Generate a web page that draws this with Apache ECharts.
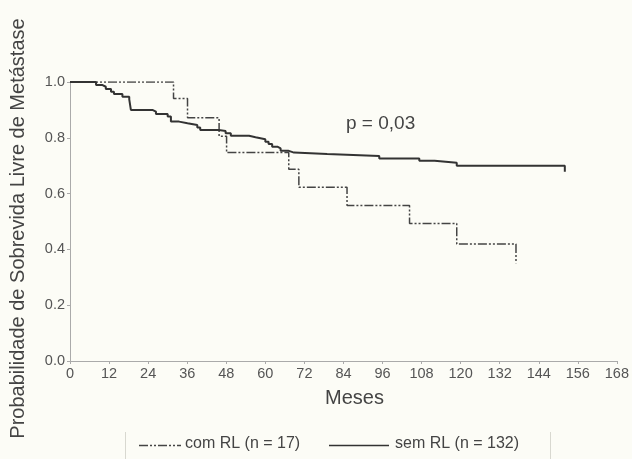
<!DOCTYPE html>
<html>
<head>
<meta charset="utf-8">
<script src="https://cdn.jsdelivr.net/npm/echarts@6/dist/echarts.min.js"></script>
<style>
html,body{margin:0;padding:0;background:#fcfcf6;}
#chart{width:632px;height:459px;}
</style>
</head>
<body>
<div id="chart"></div>
<script>
// Axis ticks
const xTicks = [0,12,24,36,48,60,72,84,96,108,120,132,144,156,168];
const yTicks = [0.0,0.2,0.4,0.6,0.8,1.0];

// sem RL (n = 132) - Kaplan-Meier steps
const semMonths = [0,8,10,11,12.6,13.5,16.1,18.2,18.7,25.3,26.4,30,31,33.5,36.1,39.1,40,45.7,47.8,49.4,55,57,60,61,62.1,63.7,64.7,67,68.8,79,95,107.3,112,118.8,152,152];
const semSurv   = [1,0.989,0.983,0.975,0.965,0.957,0.947,0.938,0.90,0.894,0.885,0.876,0.858,0.852,0.846,0.837,0.828,0.824,0.816,0.807,0.802,0.795,0.786,0.778,0.768,0.762,0.754,0.747,0.742,0.735,0.726,0.718,0.711,0.70,0.70,0.678];

// com RL (n = 17)
const comMonths = [0,31.8,36.1,45.8,48.1,67.2,70.3,85.1,104.3,118.8,137,137];
const comSurv   = [1,0.941,0.872,0.806,0.747,0.687,0.623,0.557,0.493,0.419,0.419,0.35];

const seriesNames = ['com RL (n = 17)', 'sem RL (n = 132)'];
const yTitle = 'Probabilidade de Sobrevida Livre de Metástase';
const xTitle = 'Meses';
const pText = 'p = 0,03';

const pair = (xs, ys) => xs.map((x, i) => [x, ys[i]]);
const FONT = '"Liberation Sans", Arial, sans-serif';
const dashDot = [9, 2, 2, 2, 2, 2];

const chart = echarts.init(document.getElementById('chart'), null, {renderer: 'canvas'});
chart.setOption({
  backgroundColor: '#fcfcf6',
  animation: false,
  textStyle: {fontFamily: FONT},
  grid: {left: 69, right: 15, top: 82, bottom: 98},
  xAxis: {
    type: 'value', min: xTicks[0], max: xTicks[xTicks.length - 1], interval: 12,
    name: xTitle, nameLocation: 'middle', nameGap: 27,
    nameTextStyle: {fontSize: 20, color: '#444', fontFamily: FONT, padding: [0, 0, 0, 22]},
    axisLine: {lineStyle: {color: '#aaa', width: 1}},
    axisTick: {length: 3, lineStyle: {color: '#aaa'}},
    axisLabel: {fontSize: 14.5, color: '#555', margin: 5, fontFamily: FONT},
    splitLine: {show: false}
  },
  yAxis: {
    type: 'value', min: yTicks[0], max: yTicks[yTicks.length - 1], interval: 0.2,
    name: yTitle, nameLocation: 'middle', nameGap: 42, nameRotate: 90,
    nameTextStyle: {fontSize: 20, color: '#444', fontFamily: FONT, padding: [0, 14, 0, 0]},
    axisLine: {show: true, lineStyle: {color: '#aaa', width: 1}},
    axisTick: {show: true, length: 3, lineStyle: {color: '#aaa'}},
    axisLabel: {fontSize: 14.5, color: '#555', margin: 5, fontFamily: FONT,
      formatter: v => v.toFixed(1)},
    splitLine: {show: false}
  },
  legend: {show: false},
  series: [
    {
      name: seriesNames[0], type: 'line', step: 'end', symbol: 'none',
      data: pair(comMonths, comSurv),
      lineStyle: {color: '#444', width: 1.5, type: dashDot},
      itemStyle: {color: '#444'}
    },
    {
      name: seriesNames[1], type: 'line', step: 'end', symbol: 'none',
      data: pair(semMonths, semSurv),
      lineStyle: {color: '#333', width: 2, type: 'solid'},
      itemStyle: {color: '#333'}
    }
  ],
  graphic: [
    {type: 'text', left: 346, top: 114, style: {text: pText, font: '19px ' + FONT, fill: '#444'}},
    // legend
    {type: 'line', shape: {x1: 139, y1: 445.5, x2: 181, y2: 445.5}, style: {stroke: '#444', lineWidth: 1.5, lineDash: dashDot}},
    {type: 'text', left: 185, top: 436, style: {text: seriesNames[0], font: '16px ' + FONT, fill: '#444'}},
    {type: 'line', shape: {x1: 329, y1: 445.5, x2: 389, y2: 445.5}, style: {stroke: '#333', lineWidth: 1.5}},
    {type: 'text', left: 395, top: 436, style: {text: seriesNames[1], font: '16px ' + FONT, fill: '#444'}},
    {type: 'line', shape: {x1: 125.5, y1: 432, x2: 125.5, y2: 459}, style: {stroke: '#d8d8d0', lineWidth: 1}},
    {type: 'line', shape: {x1: 550.5, y1: 432, x2: 550.5, y2: 459}, style: {stroke: '#d8d8d0', lineWidth: 1}}
  ]
});
</script>
</body>
</html>
